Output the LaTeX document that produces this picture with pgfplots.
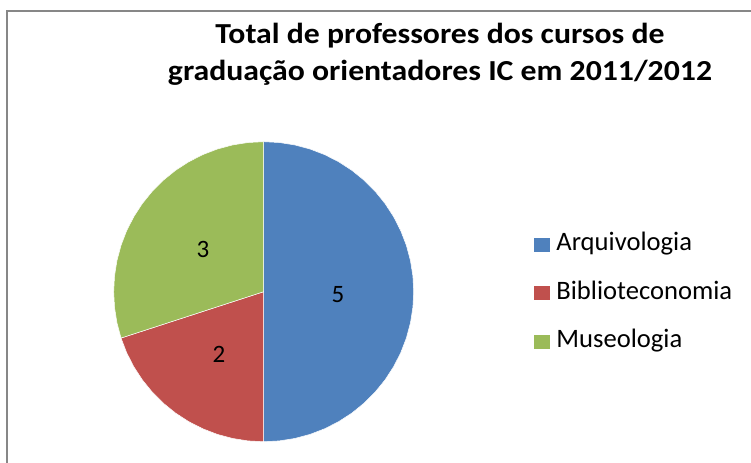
\documentclass[border=0pt]{standalone}
\usepackage{pgfplots}
\pgfplotsset{compat=1.18}
\usepackage{fontspec}
\setmainfont{Carlito}
\definecolor{pieblue}{HTML}{4F81BD}
\definecolor{piered}{HTML}{C0504D}
\definecolor{piegreen}{HTML}{9BBB59}
\definecolor{framegray}{HTML}{878787}
% Values: Arquivologia 5, Biblioteconomia 2, Museologia 3 (total 10)
% slices start at 90 deg and run clockwise: 5 -> 180 deg, 2 -> 72 deg, 3 -> 108 deg
\begin{document}
\begin{tikzpicture}
\useasboundingbox (0,0) rectangle (751bp,-463bp);
\fill[white] (0,0) rectangle (751bp,-463bp);
\draw[framegray, line width=2.5bp] (7bp,-500bp) -- (7bp,-11bp) -- (800bp,-11bp);
\node[font=\fontsize{29bp}{34bp}\selectfont\bfseries, anchor=base, inner sep=0pt] at (440bp,-43.5bp) {\scalebox{1.095}[1]{Total de professores dos cursos de}};
\node[font=\fontsize{29bp}{34bp}\selectfont\bfseries, anchor=base, inner sep=0pt] at (440bp,-80.5bp) {\scalebox{1.095}[1]{graduação orientadores IC em 2011/2012}};
\begin{axis}[
  x=150bp, y=150bp, xmin=-1, xmax=1, ymin=-1, ymax=1,
  hide axis, clip=false, anchor=center, at={(263.7bp,-291.7bp)},
  legend style={draw=none, fill=none, at={(1.401,0.696)}, anchor=north west,
    inner sep=0pt, outer sep=0pt, row sep=24.5bp, column sep=0pt,
    font=\fontsize{26.6bp}{30bp}\selectfont,
    nodes={inner sep=0pt, text height=18bp, text depth=6bp, anchor=base west}},
  legend cell align=left,
]
\addplot[fill=pieblue, draw=white, line width=0.5bp, data cs=polar, forget plot] coordinates {
(0,0) (90,1) (84,1) (78,1) (72,1) (66,1) (60,1) (54,1) (48,1) (42,1) (36,1) (30,1) (24,1) (18,1) (12,1) (6,1) (0,1) (-6,1) (-12,1) (-18,1) (-24,1) (-30,1) (-36,1) (-42,1) (-48,1) (-54,1) (-60,1) (-66,1) (-72,1) (-78,1) (-84,1) (-90,1) (0,0)};
\addplot[fill=piered, draw=white, line width=0.5bp, data cs=polar, forget plot] coordinates {
(0,0) (270,1) (264,1) (258,1) (252,1) (246,1) (240,1) (234,1) (228,1) (222,1) (216,1) (210,1) (204,1) (198,1) (0,0)};
\addplot[fill=piegreen, draw=white, line width=0.5bp, data cs=polar, forget plot] coordinates {
(0,0) (198,1) (192,1) (186,1) (180,1) (174,1) (168,1) (162,1) (156,1) (150,1) (144,1) (138,1) (132,1) (126,1) (120,1) (114,1) (108,1) (102,1) (96,1) (90,1) (0,0)};
\addlegendimage{legend image code/.code={\fill[pieblue] (0bp,0bp) rectangle (15bp,13bp); \path (22bp,0bp);}}
\addlegendentry{Arquivologia}
\addlegendimage{legend image code/.code={\fill[piered] (0bp,0bp) rectangle (15bp,13bp); \path (22bp,0bp);}}
\addlegendentry{Biblioteconomia}
\addlegendimage{legend image code/.code={\fill[piegreen] (0bp,0bp) rectangle (15bp,13bp); \path (22bp,0bp);}}
\addlegendentry{Museologia}
\node[font=\fontsize{25bp}{30bp}\selectfont, anchor=base] at (axis cs:0.495,-0.069) {5};
\node[font=\fontsize{25bp}{30bp}\selectfont, anchor=base] at (axis cs:-0.298,-0.471) {2};
\node[font=\fontsize{25bp}{30bp}\selectfont, anchor=base] at (axis cs:-0.405,0.229) {3};
\end{axis}
\end{tikzpicture}
\end{document}
